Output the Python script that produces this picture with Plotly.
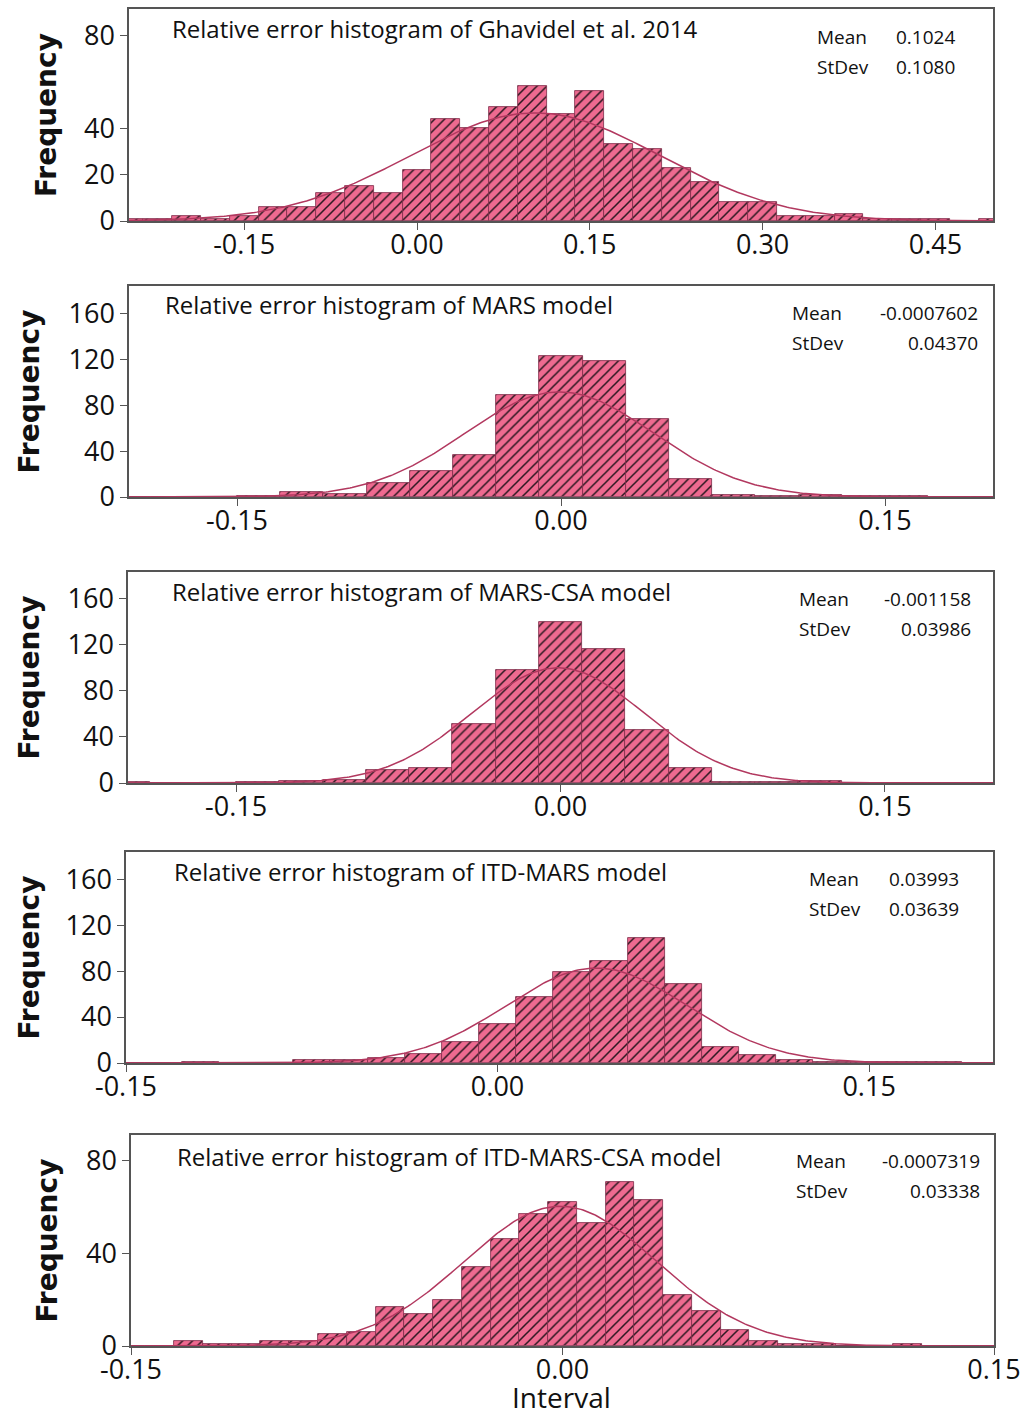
import numpy as np
import plotly.graph_objects as go

W, H = 1024, 1415

# ---------------- data ----------------
titles = [
    "Relative error histogram of Ghavidel et al. 2014",
    "Relative error histogram of MARS model",
    "Relative error histogram of MARS-CSA model",
    "Relative error histogram of ITD-MARS model",
    "Relative error histogram of ITD-MARS-CSA model",
]
means = [0.1024, -0.0007602, -0.001158, 0.03993, -0.0007319]
stdevs = [0.1080, 0.04370, 0.03986, 0.03639, 0.03338]
mean_labels = ["0.1024", "-0.0007602", "-0.001158", "0.03993", "-0.0007319"]
stdev_labels = ["0.1080", "0.04370", "0.03986", "0.03639", "0.03338"]
bin_widths = [0.025, 0.02, 0.02, 0.015, 0.01]

ghavidel_mid = [-0.25, -0.225, -0.2, -0.175, -0.15, -0.125, -0.1, -0.075, -0.05, -0.025,
                0.0, 0.025, 0.05, 0.075, 0.1, 0.125, 0.15, 0.175, 0.2, 0.225,
                0.25, 0.275, 0.3, 0.325, 0.35, 0.375, 0.4, 0.425, 0.45, 0.475, 0.5]
ghavidel_cnt = [1, 1, 2, 1, 2, 6, 6, 12, 15, 12,
                22, 44, 40, 49, 58, 46, 56, 33, 31, 23,
                17, 8, 8, 2, 2, 3, 1, 1, 1, 0, 1]

mars_mid = [-0.2, -0.18, -0.16, -0.14, -0.12, -0.1, -0.08, -0.06, -0.04, -0.02, 0.0,
            0.02, 0.04, 0.06, 0.08, 0.1, 0.12, 0.14, 0.16, 0.18, 0.2]
mars_cnt = [0, 0, 0, 1, 4, 3, 12, 23, 37, 89, 123,
            119, 68, 16, 2, 1, 2, 1, 1, 0, 0]

mars_csa_mid = [-0.2, -0.18, -0.16, -0.14, -0.12, -0.1, -0.08, -0.06, -0.04, -0.02, 0.0,
                0.02, 0.04, 0.06, 0.08, 0.1, 0.12, 0.14, 0.16, 0.18, 0.2]
mars_csa_cnt = [1, 0, 0, 1, 2, 3, 11, 13, 51, 98, 140,
                116, 46, 13, 1, 1, 2, 0, 0, 0, 0]

itd_mars_mid = [-0.15, -0.135, -0.12, -0.105, -0.09, -0.075, -0.06, -0.045, -0.03, -0.015,
                0.0, 0.015, 0.03, 0.045, 0.06, 0.075, 0.09, 0.105, 0.12, 0.135,
                0.15, 0.165, 0.18, 0.195]
itd_mars_cnt = [0, 0, 1, 0, 0, 3, 3, 4, 8, 18,
                34, 57, 79, 89, 109, 69, 14, 7, 3, 1,
                1, 1, 1, 0]

itd_mars_csa_mid = [-0.15, -0.14, -0.13, -0.12, -0.11, -0.1, -0.09, -0.08, -0.07, -0.06,
                    -0.05, -0.04, -0.03, -0.02, -0.01, 0.0, 0.01, 0.02, 0.03, 0.04,
                    0.05, 0.06, 0.07, 0.08, 0.09, 0.1, 0.11, 0.12, 0.13, 0.14, 0.15]
itd_mars_csa_cnt = [0, 0, 2, 1, 1, 2, 2, 5, 6, 17,
                    14, 20, 34, 46, 57, 62, 53, 71, 63, 22,
                    15, 7, 2, 1, 1, 0, 0, 1, 0, 0, 0]

mids = [ghavidel_mid, mars_mid, mars_csa_mid, itd_mars_mid, itd_mars_csa_mid]
counts = [ghavidel_cnt, mars_cnt, mars_csa_cnt, itd_mars_cnt, itd_mars_csa_cnt]

x_ranges = [[-0.25, 0.5], [-0.2, 0.2], [-0.2, 0.2], [-0.15, 0.2], [-0.15, 0.15]]
y_ranges = [[0, 91.3], [0, 184], [0, 183], [0, 183.6], [0, 91.1]]
x_ticks = [[-0.15, 0.0, 0.15, 0.30, 0.45], [-0.15, 0.0, 0.15], [-0.15, 0.0, 0.15],
           [-0.15, 0.0, 0.15], [-0.15, 0.0, 0.15]]
x_ticktext = [["-0.15", "0.00", "0.15", "0.30", "0.45"], ["-0.15", "0.00", "0.15"],
              ["-0.15", "0.00", "0.15"], ["-0.15", "0.00", "0.15"], ["-0.15", "0.00", "0.15"]]
y_ticks = [[0, 20, 40, 80], [0, 40, 80, 120, 160], [0, 40, 80, 120, 160],
           [0, 40, 80, 120, 160], [0, 40, 80]]

# ---------------- layout geometry (pixels) ----------------
# plot boxes: left, right, top, bottom
boxes = [(129, 993, 9, 221), (129, 993, 286, 497), (128, 993, 572, 783),
         (126, 993, 852, 1063), (131, 994, 1135, 1346)]
title_pos = [(170, 29), (163, 305), (170, 591), (172, 871), (175, 1156)]
stat_pos = [(815, 37, 957), (790, 313, 980), (797, 599, 973), (807, 879, 961), (794, 1161, 982)]
freq_x = [46, 29, 29, 29, 47]

BAR_FILL = "#ee6a90"
HATCH = "#2b1820"
CURVE = "#b2385f"
FRAME = "#555555"
TEXT_FONT = "Open Sans"


def px(x):
    return x / W


def py(y):
    return 1 - y / H


fig = go.Figure()
annotations = []

for i in range(5):
    n = i + 1
    xa = "x" if n == 1 else f"x{n}"
    ya = "y" if n == 1 else f"y{n}"
    w = bin_widths[i]

    fig.add_trace(go.Bar(
        x=mids[i], y=counts[i], width=w,
        xaxis=xa, yaxis=ya,
        marker=dict(
            color=BAR_FILL,
            line=dict(color="#7d2a48", width=0.8),
            pattern=dict(shape="/", fgcolor=HATCH, bgcolor=BAR_FILL,
                         size=7, solidity=0.22, fillmode="replace"),
        ),
        showlegend=False, hoverinfo="skip",
    ))

    # fitted normal curve scaled to the histogram
    total = sum(counts[i])
    xs = np.linspace(x_ranges[i][0], x_ranges[i][1], 400)
    ys = total * w / (stdevs[i] * np.sqrt(2 * np.pi)) * np.exp(-0.5 * ((xs - means[i]) / stdevs[i]) ** 2)
    fig.add_trace(go.Scatter(
        x=xs, y=ys, mode="lines", xaxis=xa, yaxis=ya,
        line=dict(color=CURVE, width=1.5),
        showlegend=False, hoverinfo="skip",
    ))

    l, r, t, b = boxes[i]
    axis_common = dict(
        showline=True, mirror=True, linecolor=FRAME, linewidth=1.5,
        ticks="outside", ticklen=7, tickwidth=1.2, tickcolor=FRAME,
        showgrid=False, zeroline=False, automargin=False,
        tickfont=dict(family=TEXT_FONT, size=27, color="#111111"),
    )
    fig.update_layout(**{
        ("xaxis" if n == 1 else f"xaxis{n}"): dict(
            domain=[px(l), px(r)], range=x_ranges[i], anchor=ya,
            tickvals=x_ticks[i], ticktext=x_ticktext[i], ticklabelstandoff=-8,
            **axis_common),
        ("yaxis" if n == 1 else f"yaxis{n}"): dict(
            domain=[py(b), py(t)], range=y_ranges[i], anchor=xa,
            tickvals=y_ticks[i], **axis_common),
    })

    tx, ty = title_pos[i]
    annotations.append(dict(x=px(tx), y=py(ty), xref="paper", yref="paper",
                            text=titles[i], showarrow=False, xanchor="left", yanchor="middle",
                            font=dict(family=TEXT_FONT, size=24, color="#111111")))
    sx, sy, vx = stat_pos[i]
    for k, (lab, val) in enumerate([("Mean", mean_labels[i]), ("StDev", stdev_labels[i])]):
        yy = sy + 30 * k
        annotations.append(dict(x=px(sx), y=py(yy), xref="paper", yref="paper",
                                text=lab, showarrow=False, xanchor="left", yanchor="middle",
                                font=dict(family=TEXT_FONT, size=19, color="#111111")))
        annotations.append(dict(x=px(vx), y=py(yy), xref="paper", yref="paper",
                                text=val, showarrow=False, xanchor="right", yanchor="middle",
                                font=dict(family=TEXT_FONT, size=19, color="#111111")))
    annotations.append(dict(x=px(freq_x[i]), y=py((t + b) / 2), xref="paper", yref="paper",
                            text="<b>Frequency</b>", showarrow=False, textangle=-90,
                            xanchor="center", yanchor="middle",
                            font=dict(family="DejaVu Sans", size=28, color="#111111")))

annotations.append(dict(x=px(561), y=py(1397), xref="paper", yref="paper",
                        text="Interval", showarrow=False, xanchor="center", yanchor="middle",
                        font=dict(family=TEXT_FONT, size=28, color="#111111")))

fig.update_layout(
    width=W, height=H,
    margin=dict(l=0, r=0, t=0, b=0, autoexpand=False),
    paper_bgcolor="white", plot_bgcolor="white",
    bargap=0, barmode="overlay",
    annotations=annotations,
)

fig.write_html("out.html")
